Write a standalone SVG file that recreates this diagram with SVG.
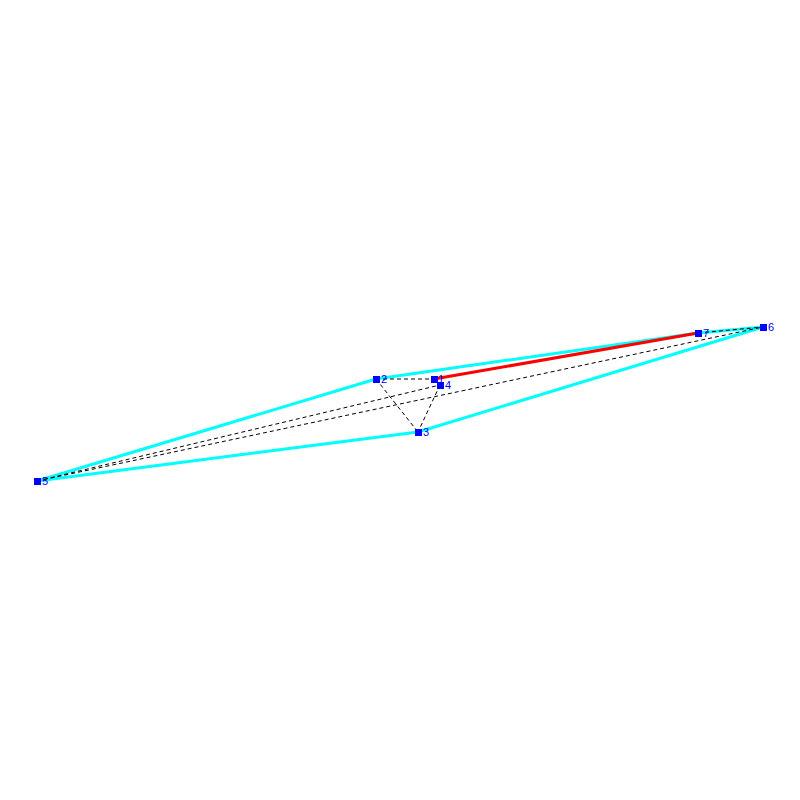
<svg xmlns="http://www.w3.org/2000/svg" width="800" height="800" viewBox="0 0 800 800">
<style>
.hull{stroke:#00ffff;stroke-width:3;fill:none}
.dash{stroke:#000;stroke-width:1;stroke-dasharray:4,3;fill:none}
.red{stroke:#ff0000;stroke-width:3;fill:none}
.node rect{fill:#0000ff}
.node text{fill:#0000ff;font-family:"Liberation Sans",Arial,sans-serif;font-size:11px}
</style>
<rect width="800" height="800" fill="#fff"/>
<g id="connectors">
<line class="hull" x1="37" y1="481" x2="376" y2="379"/>
<line class="hull" x1="376" y1="379" x2="698" y2="333"/>
<line class="hull" x1="698" y1="333" x2="763" y2="327"/>
<line class="hull" x1="763" y1="327" x2="418" y2="432"/>
<line class="hull" x1="418" y1="432" x2="37" y2="481"/>
<line class="red" x1="434" y1="379" x2="698" y2="333"/>
<line class="dash" x1="376" y1="379" x2="434" y2="379"/>
<line class="dash" x1="376" y1="379" x2="418" y2="432"/>
<line class="dash" x1="440" y1="385" x2="418" y2="432"/>
<line class="dash" x1="37" y1="481" x2="440" y2="385"/>
<line class="dash" x1="37" y1="481" x2="763" y2="327"/>
<line class="dash" x1="698" y1="333" x2="763" y2="327"/>
</g>
<g id="n1" class="node"><rect x="431" y="376" width="7" height="7"/><text x="438" y="383">1</text></g>
<g id="n2" class="node"><rect x="373" y="376" width="7" height="7"/><text x="381" y="383">2</text></g>
<g id="n3" class="node"><rect x="415" y="429" width="7" height="7"/><text x="423" y="436">3</text></g>
<g id="n4" class="node"><rect x="437" y="382" width="7" height="7"/><text x="445" y="389">4</text></g>
<g id="n5" class="node"><rect x="34" y="478" width="7" height="7"/><text x="42" y="485">5</text></g>
<g id="n6" class="node"><rect x="760" y="324" width="7" height="7"/><text x="768" y="331">6</text></g>
<g id="n7" class="node"><rect x="695" y="330" width="7" height="7"/><text x="703" y="337">7</text></g>
</svg>
